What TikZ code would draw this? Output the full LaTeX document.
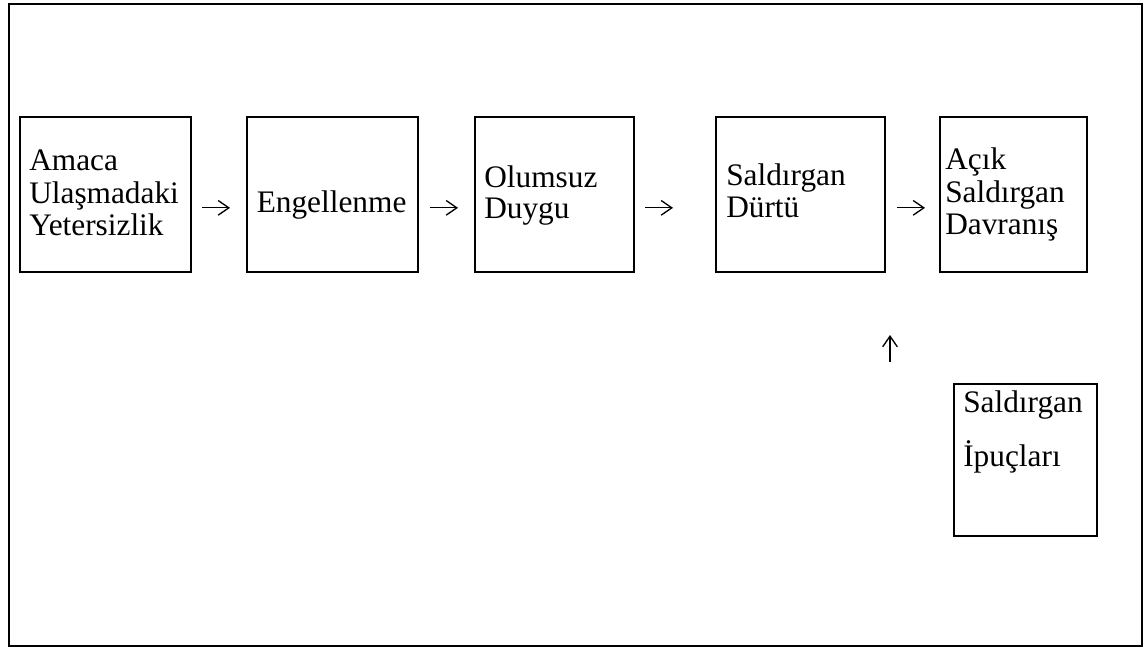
\documentclass[tikz,border=0pt]{standalone}
\usepackage{fontspec}
\setmainfont{Liberation Serif}
\usetikzlibrary{arrows.meta}
\begin{document}
\begin{tikzpicture}[x=0.75pt,y=-0.75pt,
  frame/.style={draw,line width=1.5pt},
  box/.style={draw,line width=1.5pt,inner sep=0pt,anchor=north west,minimum height=116.25pt},
  lbl/.style={anchor=base west,inner sep=0pt,align=left,font=\fontsize{23.5}{24.5}\selectfont},
  arr/.style={line width=1pt,-{Straight Barb[length=8pt,width=11pt]}}]
\useasboundingbox (0,0) rectangle (1143,649);
\draw[frame] (9,4) rectangle (1142,646);
% boxes
\node[box,minimum width=128.25pt] (b1) at (19,116) {};
\node[box,minimum width=128.6pt] (b2) at (246,116) {};
\node[box,minimum width=119.25pt] (b3) at (474,116) {};
\node[box,minimum width=126.75pt] (b4) at (715,116) {};
\node[box,minimum width=110.25pt] (b5) at (939,116) {};
\node[box,minimum width=107.25pt,minimum height=114pt] (b6) at (953,383) {};
% texts (anchored at the baseline of the last line)
\node[lbl] (t1) at (29,236) {Amaca\\Ulaşmadaki\\Yetersizlik};
\node[lbl] (t2) at (256.5,213) {Engellenme};
\node[lbl,font=\fontsize{23.5}{23.8}\selectfont] (t3) at (484,219) {Olumsuz\\Duygu};
\node[lbl] (t4) at (726,218) {Saldırgan\\Dürtü};
\node[lbl] (t5) at (945,235) {Açık\\Saldırgan\\Davranış};
\node[lbl,font=\fontsize{23.5}{40.5}\selectfont] (t6) at (963,466.7) {Saldırgan\\İpuçları};
% arrows
\draw[arr,shorten <=7.5pt,shorten >=12pt] ([yshift=-10pt]b1.east) -- ([yshift=-10pt]b2.west);
\draw[arr,shorten <=7.9pt,shorten >=12pt] ([yshift=-10pt]b2.east) -- ([yshift=-10pt]b3.west);
\draw[arr,shorten <=7.5pt,shorten >=31.5pt] ([yshift=-10pt]b3.east) -- ([yshift=-10pt]b4.west);
\draw[arr,shorten <=8.25pt,shorten >=10.5pt] ([yshift=-10pt]b4.east) -- ([yshift=-10pt]b5.west);
\coordinate (us) at (890,362);
\coordinate (ue) at (890,335);
\draw[arr] (us) -- (ue);
\end{tikzpicture}
\end{document}
